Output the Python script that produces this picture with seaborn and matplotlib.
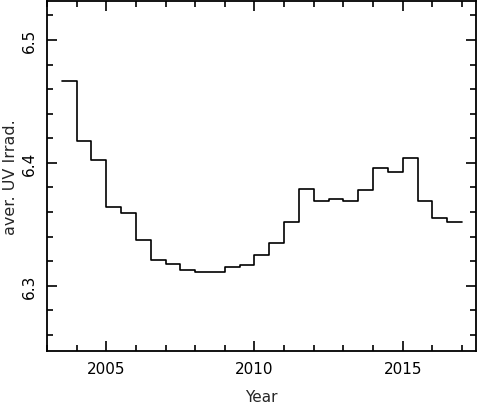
import matplotlib
matplotlib.use("Agg")
import matplotlib.pyplot as plt
import seaborn as sns
import pandas as pd
from matplotlib.ticker import MultipleLocator

# half-year bins: start year of each bin
bin_start = [2003.5, 2004.0, 2004.5, 2005.0, 2005.5, 2006.0, 2006.5, 2007.0, 2007.5,
             2008.0, 2008.5, 2009.0, 2009.5, 2010.0, 2010.5, 2011.0, 2011.5, 2012.0,
             2012.5, 2013.0, 2013.5, 2014.0, 2014.5, 2015.0, 2015.5, 2016.0, 2016.5]
bin_end_last = 2017.0
uv_irrad = [6.467, 6.418, 6.402, 6.364, 6.359, 6.337, 6.321, 6.318, 6.313,
            6.311, 6.311, 6.315, 6.317, 6.325, 6.335, 6.352, 6.379, 6.369,
            6.371, 6.369, 6.378, 6.396, 6.393, 6.404, 6.369, 6.355, 6.352]

x_ticks = [2005, 2010, 2015]
y_ticks = [6.3, 6.4, 6.5]

df = pd.DataFrame({"Year": bin_start + [bin_end_last],
                   "uv": uv_irrad + [uv_irrad[-1]]})

sns.set_style("ticks")
plt.rcParams["font.family"] = ["DejaVu Sans"]

fig = plt.figure(figsize=(4.79, 4.06), dpi=100)
ax = fig.add_axes([0.098, 0.133, 0.8957, 0.863])

sns.lineplot(data=df, x="Year", y="uv", drawstyle="steps-post", color="black",
             linewidth=1.2, ax=ax, estimator=None)

ax.set_xlim(2003.0, 2017.47)
ax.set_ylim(6.247, 6.532)
ax.set_xticks(x_ticks)
ax.set_xticklabels([str(t) for t in x_ticks])
ax.set_yticks(y_ticks)
ax.set_yticklabels([f"{t:.1f}" for t in y_ticks], rotation=90, va="center")
ax.xaxis.set_minor_locator(MultipleLocator(1))
ax.yaxis.set_minor_locator(MultipleLocator(0.02))

for s in ax.spines.values():
    s.set_visible(True)
    s.set_linewidth(1.3)
    s.set_color("black")

ax.tick_params(which="both", direction="in", top=True, right=True, color="black",
               width=1.2, labelsize=11, labelcolor="black")
ax.tick_params(which="major", length=7, pad=7)
ax.tick_params(which="minor", length=4)

ax.set_xlabel("Year", fontsize=11)
ax.set_ylabel("aver. UV Irrad.", fontsize=11.5)
ax.xaxis.set_label_coords(0.5, -0.108)
ax.yaxis.set_label_coords(-0.0676, 0.5)

fig.savefig("out.png", dpi=100)
